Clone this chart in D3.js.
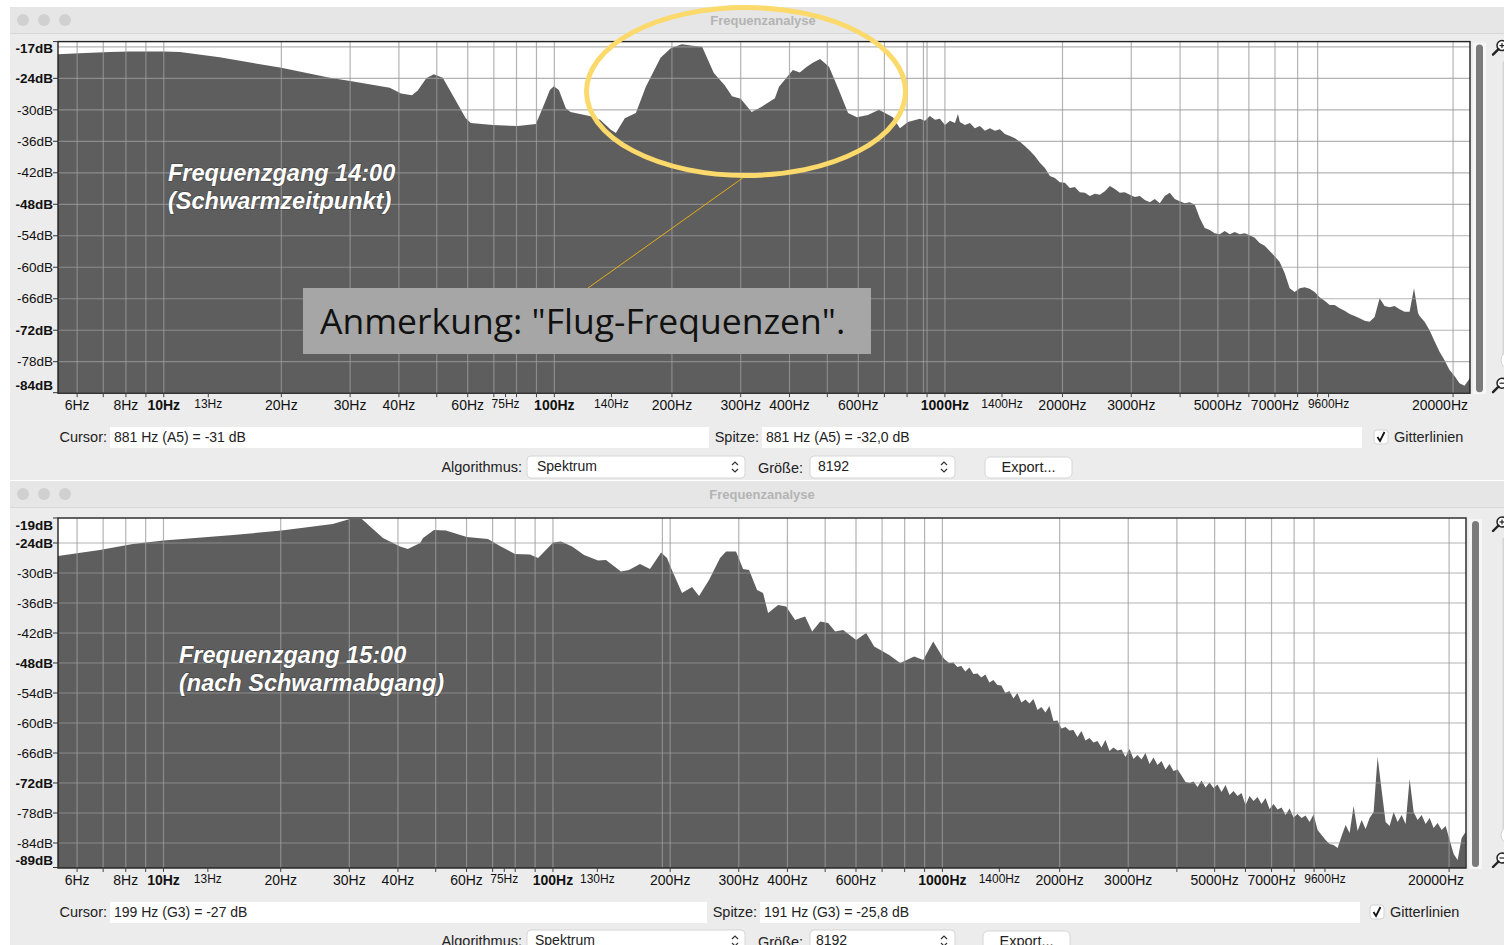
<!DOCTYPE html>
<html><head><meta charset="utf-8">
<script src="https://cdn.jsdelivr.net/npm/d3@7"></script>
<style>
html,body{margin:0;padding:0;background:#fff;overflow:hidden;}
svg{display:block;font-family:"Liberation Sans",Arial,Helvetica,sans-serif;}
</style></head><body>
<svg id="c" width="1504" height="945"></svg>
<script>
// ---------- data ----------
// spectrum 14:00 (frequency in Hz, level in dB)
const freq1400 = [5.36,6.09,7.27,8.18,10,11,13.9,20,26.6,30,37.9,40.5,43.2,44.7,47,49.1,51.8,55.3,59.3,61.1,69.6,80.6,89.7,93.5,97.4,99.7,102.7,107,110,123,131,139.5,143.7,151.5,161.7,171.5,187,199,212,226,239,256,273,285,300,320,338,367,376,408,425,443,460,479,505,535,565,595,635,678,736,767,804,
  863,889,915,943,971,1000,1030,1061,1080,1092,1125,1159,1193,1229,1266,1304,1343,1383,1424,1467,1511,1556,1602,1650,1699,1750,1803,1857,1912,1969,2028,2089,2151,2215,2282,2350,2420,2492,2567,2644,2723,2804,2888,2974,3063,3155,3249,3346,3446,3549,3655,3764,3877,3993,4112,4235,4362,4492,4626,4765,4907,5054,5205,5360,5521,5686,5856,6031,6211,6396,6588,6784,6987,7196,7411,7633,7861,8096,8338,8587,8844,9108,9381,9661,9950,10247,10554,10869,11194,11529,11873,12228,12594,12970,13358,13757,14168,14592,15028,15477,15888,16268,16416,16907,17412,17933,18469,19021,19590,20175,20778,21399,22100];
const db1400   = [-19.4,-19.2,-19.0,-18.9,-18.9,-19.0,-20.0,-22.0,-23.9,-24.5,-25.8,-26.9,-27.2,-26.3,-24.0,-23.2,-23.9,-27.6,-31.6,-32.5,-32.9,-33.1,-32.7,-29.5,-26.2,-25.5,-26.2,-29.7,-30.4,-31.2,-31.9,-33.8,-34.4,-31.6,-30.6,-25.6,-20.1,-18.2,-17.5,-17.8,-18.0,-23.0,-25.3,-27.4,-27.9,-30.4,-29.5,-27.8,-25.6,-22.4,-22.9,-21.8,-21.0,-20.3,-21.8,-26.2,-30.6,-31.4,-31.0,-30.0,-31.4,-33.5,-32.3,
  -31.7,-32.1,-31.2,-31.9,-31.7,-32.9,-32.1,-32.5,-30.8,-32.3,-32.9,-32.5,-33.5,-33.1,-34.0,-33.5,-34.0,-33.7,-34.6,-35.0,-35.4,-36.1,-36.9,-37.8,-38.8,-40.1,-41.1,-42.6,-43.0,-43.8,-43.9,-44.9,-44.7,-45.7,-45.8,-46.4,-46.0,-46.2,-45.5,-44.5,-45.1,-45.8,-45.7,-46.2,-46.6,-46.4,-47.2,-47.6,-47.0,-47.8,-46.4,-45.8,-47.0,-47.4,-47.8,-47.6,-48.1,-50.6,-52.5,-52.9,-53.5,-53.7,-53.1,-53.7,-53.3,-53.7,-53.5,-53.9,-54.4,-55.4,-55.9,-56.9,-57.9,-59.0,-61.1,-64.0,-64.7,-64.0,-63.8,-64.1,-64.7,-65.7,-66.4,-67.2,-67.2,-67.8,-68.3,-68.9,-69.3,-69.7,-70.2,-70.4,-69.5,-65.9,-67.4,-67.6,-67.4,-68.0,-68.5,-68.5,-64.0,-68.7,-69.3,-70.4,-72.0,-74.1,-76.1,-77.7,-79.6,-80.7,-82.1,-82.6,-81.1];

// spectrum 15:00
const freq1500 = [5.36,6.86,8.34,10,15.1,20.1,27.2,30.1,32.3,36.6,40.5,42.4,45.6,46.4,49.5,53.1,60.1,68.1,73.5,79.9,87.3,91.6,100.1,104.9,112,120.2,130.5,136.8,149.5,156.7,167.3,177.5,189.5,196.3,201,214.5,227.6,237.2,251.6,268.6,278.3,295.2,307.7,318.8,334.3,346.4,356.8,378.6,396.9,418.6,444.1,463,485.5,508.9,530.4,556.1,600.5,637.1,668,730,778.9,846.5,892.7,947.1,998.9,
  1017,1042,1067,1092,1118,1145,1173,1201,1230,1259,1289,1320,1352,1384,1417,1451,1486,1522,1558,1595,1634,1673,1713,1754,1796,1839,1883,1928,1974,2021,2070,2119,2170,2222,2275,2330,2386,2443,2501,2561,2622,2685,2750,2815,2883,2952,3022,3095,3169,3245,3322,3402,3483,3567,3652,3739,3829,3921,4015,4111,4209,4310,4413,4519,4627,4738,4851,4967,5086,5208,5333,5460,5591,5725,5862,6002,6146,6293,6444,6598,6756,6918,7084,7253,7427,7605,7787,7973,8164,8360,8560,8765,8975,9190,9410,9635,9866,10102,10344,10592,10845,11105,11371,11643,11922,12207,12500,12799,13105,13419,13740,14069,14406,14751,15104,15466,15836,16215,16603,17001,17408,17825,18251,18688,19136,19594,20063,20543,21035,21538,22054];
const db1500   = [-26.6,-25.4,-24.2,-23.5,-22.4,-21.5,-20.2,-19.2,-19.2,-23.0,-24.7,-25.2,-24.0,-23.0,-21.4,-21.5,-22.8,-23.2,-24.7,-26.2,-26.3,-27.0,-23.9,-23.7,-24.7,-26.4,-27.5,-27.4,-29.7,-29.4,-28.2,-29.2,-25.9,-27.0,-29.0,-34.0,-32.8,-34.6,-31.4,-27.0,-25.7,-25.7,-29.2,-29.4,-33.4,-34.0,-38.0,-36.4,-36.7,-39.4,-38.7,-41.7,-39.7,-40.0,-41.7,-41.4,-43.4,-42.0,-44.7,-46.4,-48.0,-46.7,-47.4,-43.7,-46.7,
  -47.4,-48.0,-47.9,-48.8,-48.6,-49.7,-48.9,-50.2,-50.1,-50.9,-50.3,-51.9,-51.4,-52.4,-52.5,-54.0,-53.6,-55.1,-54.0,-55.9,-55.3,-56.1,-55.2,-57.4,-56.8,-57.9,-56.6,-59.6,-59.5,-61.1,-60.8,-61.5,-61.4,-62.8,-61.6,-63.5,-63.0,-63.9,-63.6,-64.9,-63.4,-65.6,-64.9,-65.5,-65.3,-66.8,-65.2,-67.2,-66.4,-67.3,-66.0,-68.2,-66.9,-68.4,-67.6,-69.3,-68.2,-69.6,-69.3,-70.5,-71.8,-72.0,-71.7,-72.8,-71.5,-72.9,-71.9,-73.0,-72.3,-73.8,-72.4,-74.4,-73.6,-74.6,-74.0,-76.4,-74.6,-75.6,-74.8,-76.2,-75.0,-77.2,-76.2,-77.3,-76.9,-78.4,-77.1,-78.9,-78.2,-79.0,-78.5,-79.8,-78.3,-81.4,-82.4,-83.4,-84.2,-84.4,-85.0,-82.6,-80.4,-82.0,-76.6,-81.6,-79.4,-81.2,-79.0,-77.8,-66.8,-73.4,-79.8,-80.6,-77.8,-79.8,-78.4,-80.2,-71.2,-77.8,-79.4,-78.4,-80.2,-79.0,-81.0,-80.0,-81.4,-80.6,-83.4,-86.2,-87.4,-83.0,-81.8];

// axis labels
const gridFreqs = [6,7,8,9,10,20,30,40,50,60,70,80,90,100,200,300,400,500,600,700,800,900,1000,2000,3000,4000,5000,6000,7000,8000,9000,20000];
const freqLabels1400 = [6,8,10,13,20,30,40,60,75,100,140,200,300,400,600,1000,1400,2000,3000,5000,7000,9600,20000];
const freqLabels1500 = [6,8,10,13,20,30,40,60,75,100,130,200,300,400,600,1000,1400,2000,3000,5000,7000,9600,20000];
const minorFreqLabels = [13,75,130,140,1400,9600];
const boldFreqLabels = [10,100,1000];
const dbLabels1400 = [-17,-24,-30,-36,-42,-48,-54,-60,-66,-72,-78,-84];
const dbBold1400 = [-17,-24,-48,-72,-84];
const dbLabels1500 = [-19,-24,-30,-36,-42,-48,-54,-60,-66,-72,-78,-84,-89];
const dbBold1500 = [-19,-24,-48,-72,-89];

// ---------- drawing ----------
const svg = d3.select("#c");
svg.append("rect").attr("width",1504).attr("height",945).attr("fill","#fff");
const UI = 14.5;

function chevrons(g, cx, cy){
  g.append("path").attr("d",`M${cx-3},${cy-2} L${cx},${cy-5} L${cx+3},${cy-2} M${cx-3},${cy+2} L${cx},${cy+5} L${cx+3},${cy+2}`)
    .attr("fill","none").attr("stroke","#333").attr("stroke-width",1.2);
}
function magnifier(g, cx, cy, plus){
  g.append("circle").attr("cx",cx).attr("cy",cy).attr("r",5).attr("fill","#fff").attr("stroke","#222").attr("stroke-width",1.5);
  g.append("line").attr("x1",cx-3.5).attr("y1",cy+3.5).attr("x2",cx-9).attr("y2",cy+9).attr("stroke","#222").attr("stroke-width",2.4).attr("stroke-linecap","round");
  g.append("line").attr("x1",cx-2.5).attr("y1",cy).attr("x2",cx+2.5).attr("y2",cy).attr("stroke","#222").attr("stroke-width",1.2);
  if(plus) g.append("line").attr("x1",cx).attr("y1",cy-2.5).attr("x2",cx).attr("y2",cy+2.5).attr("stroke","#222").attr("stroke-width",1.2);
}

function drawWindow(cfg){
  const g = svg.append("g");
  const L = cfg.layout;
  // window body and title bar
  g.append("rect").attr("x",10).attr("y",L.winTop).attr("width",1494).attr("height",L.winBottom-L.winTop).attr("fill","#ececec");
  g.append("rect").attr("x",10).attr("y",L.winTop).attr("width",1494).attr("height",26).attr("fill","#e6e6e6");
  g.append("line").attr("x1",10).attr("x2",1504).attr("y1",L.winTop+26.5).attr("y2",L.winTop+26.5).attr("stroke","#d8d8d8");
  [23,44,65].forEach(cx=>g.append("circle").attr("cx",cx).attr("cy",L.winTop+13).attr("r",6).attr("fill","#d0d0d0"));
  g.append("text").attr("x",L.titleX).attr("y",L.winTop+17.5).attr("text-anchor","middle")
    .attr("font-size",13).attr("font-weight","bold").attr("fill","#b4b4b4").text("Frequenzanalyse");

  const x = d3.scaleLog().domain([5.36,22100]).range([L.x0,L.x1]);
  const y = d3.scaleLinear().domain(cfg.dbDomain).range([L.y0,L.y1]);
  const pts = cfg.freq.map((f,i)=>({f, db: cfg.db[i]}));

  const clipId = "clip"+cfg.id;
  g.append("clipPath").attr("id",clipId).append("rect").attr("x",L.x0).attr("y",L.y0).attr("width",L.x1-L.x0).attr("height",L.y1-L.y0);
  g.append("rect").attr("x",L.x0).attr("y",L.y0).attr("width",L.x1-L.x0).attr("height",L.y1-L.y0).attr("fill","#fff");
  const plot = g.append("g").attr("clip-path",`url(#${clipId})`);
  plot.append("path").datum(pts)
    .attr("d", d3.area().x(d=>x(d.f)).y0(L.y1).y1(d=>y(d.db)))
    .attr("fill","#5e5e5e");

  // grid
  const hLines = d3.range(-6, -96, -6).filter(v=>v<=cfg.dbDomain[0] && v>=cfg.dbDomain[1]);
  plot.selectAll(".h").data(hLines).join("line")
    .attr("x1",L.x0).attr("x2",L.x1).attr("y1",d=>y(d)).attr("y2",d=>y(d))
    .attr("stroke","#9b9b9b").attr("stroke-opacity",0.75).attr("stroke-width",1.2);
  plot.selectAll(".v").data(gridFreqs.concat([cfg.cursorFreq])).join("line")
    .attr("x1",d=>x(d)).attr("x2",d=>x(d)).attr("y1",L.y0).attr("y2",L.y1)
    .attr("stroke","#9b9b9b").attr("stroke-opacity",0.75).attr("stroke-width",1.2);
  g.append("rect").attr("x",L.x0).attr("y",L.y0).attr("width",L.x1-L.x0).attr("height",L.y1-L.y0)
    .attr("fill","none").attr("stroke","#222").attr("stroke-width",1.4);

  // y axis
  const yl = g.append("g");
  cfg.dbLabels.forEach(v=>{
    let ty = y(v);
    let ly = Math.min(Math.max(ty, L.y0+7), L.y1-8);
    yl.append("line").attr("x1",L.x0-5).attr("x2",L.x0).attr("y1",Math.min(ty,L.y1-0.5)).attr("y2",Math.min(ty,L.y1-0.5)).attr("stroke","#333");
    yl.append("text").attr("x",L.x0-5).attr("y",ly+4.7).attr("text-anchor","end")
      .attr("font-size",13.5).attr("font-weight",cfg.dbBold.includes(v)?"bold":"normal").attr("fill","#111")
      .text(v+"dB");
  });

  // x axis
  const xl = g.append("g");
  const tickF = Array.from(new Set(gridFreqs.concat(cfg.freqLabels)));
  tickF.forEach(f=>{
    xl.append("line").attr("x1",x(f)).attr("x2",x(f)).attr("y1",L.y1).attr("y2",L.y1+4).attr("stroke","#444");
  });
  cfg.freqLabels.forEach(f=>{
    const minor = minorFreqLabels.includes(f);
    const bold = boldFreqLabels.includes(f);
    let tx = x(f);
    if (f===20000) tx = L.x1 - 30;
    xl.append("text").attr("x",tx).attr("y",L.y1 + (minor?15:17))
      .attr("text-anchor","middle")
      .attr("font-size",minor?12:14).attr("font-weight",bold?"bold":"normal").attr("fill","#111")
      .text(f+"Hz");
  });

  // scrollbar and zoom controls
  g.append("rect").attr("x",L.x1+3).attr("y",L.y0+1).attr("width",13).attr("height",L.y1-L.y0).attr("fill","#f6f6f6");
  g.append("rect").attr("x",L.x1+6).attr("y",L.y0+3).attr("width",7).attr("height",L.y1-L.y0-4).attr("rx",3.5).attr("fill","#7b7b7b");
  g.append("line").attr("x1",1503.5).attr("x2",1503.5).attr("y1",L.y0+20).attr("y2",L.y1-30).attr("stroke","#d4d4d4").attr("stroke-width",2);
  g.append("circle").attr("cx",1510).attr("cy",L.y1-33).attr("r",9).attr("fill","#fff").attr("stroke","#d0d0d0");
  magnifier(g, 1502, L.y0+4, true);
  magnifier(g, 1502, L.y1-10, false);

  // cursor / peak row
  const r1 = L.row1;
  g.append("text").attr("x",107).attr("y",r1+5).attr("text-anchor","end").attr("font-size",UI).attr("fill","#222").text("Cursor:");
  g.append("rect").attr("x",110).attr("y",r1-10).attr("width",L.field1End-110).attr("height",21).attr("fill","#fff");
  g.append("text").attr("x",114).attr("y",r1+5).attr("font-size",UI-0.5).attr("fill","#222").text(cfg.cursorText);
  g.append("text").attr("x",L.spitzeX-3).attr("y",r1+5).attr("text-anchor","end").attr("font-size",UI).attr("fill","#222").text("Spitze:");
  g.append("rect").attr("x",L.spitzeX).attr("y",r1-10).attr("width",L.field2End-L.spitzeX).attr("height",21).attr("fill","#fff");
  g.append("text").attr("x",L.spitzeX+4).attr("y",r1+5).attr("font-size",UI-0.5).attr("fill","#222").text(cfg.peakText);
  g.append("rect").attr("x",L.checkX).attr("y",r1-7).attr("width",14).attr("height",14).attr("rx",3).attr("fill","#fff").attr("stroke","#d2d2d2");
  g.append("path").attr("d",`M${L.checkX+3.5},${r1} L${L.checkX+6},${r1+4} L${L.checkX+10.5},${r1-5}`).attr("fill","none").attr("stroke","#111").attr("stroke-width",1.8);
  g.append("text").attr("x",L.checkX+20).attr("y",r1+5).attr("font-size",UI).attr("fill","#222").text("Gitterlinien");

  // algorithm / size / export row
  const r2 = L.row2;
  g.append("text").attr("x",522).attr("y",r2+5).attr("text-anchor","end").attr("font-size",UI).attr("fill","#222").text("Algorithmus:");
  g.append("rect").attr("x",527).attr("y",r2-11).attr("width",218).attr("height",22).attr("rx",4).attr("fill","#fff").attr("stroke","#d6d6d6");
  g.append("text").attr("x",L.comboText1).attr("y",r2+4).attr("font-size",UI-0.5).attr("fill","#222").text("Spektrum");
  chevrons(g, 735, r2);
  g.append("text").attr("x",803).attr("y",r2+6).attr("text-anchor","end").attr("font-size",UI).attr("fill","#222").text("Größe:");
  g.append("rect").attr("x",810).attr("y",r2-11).attr("width",145).attr("height",22).attr("rx",4).attr("fill","#fff").attr("stroke","#d6d6d6");
  g.append("text").attr("x",L.comboText2).attr("y",r2+4).attr("font-size",UI-0.5).attr("fill","#222").text("8192");
  chevrons(g, 944, r2);
  g.append("rect").attr("x",L.exportX).attr("y",r2-10).attr("width",87).attr("height",21).attr("rx",5).attr("fill","#fff").attr("stroke","#d6d6d6");
  g.append("text").attr("x",L.exportX+43.5).attr("y",r2+5).attr("text-anchor","middle").attr("font-size",UI).attr("fill","#222").text("Export...");

  // chart caption
  const cap = g.append("text").attr("font-size",23.5).attr("font-weight","bold").attr("font-style","italic")
    .attr("fill","#fff").attr("stroke","rgba(0,0,0,0.25)").attr("stroke-width",1.5).attr("paint-order","stroke");
  cap.append("tspan").attr("x",L.capX).attr("y",L.capY).text(cfg.caption[0]);
  cap.append("tspan").attr("x",L.capX).attr("y",L.capY+28).text(cfg.caption[1]);
  return {x,y,g};
}

drawWindow({
  id:"a", freq:freq1400, db:db1400, dbDomain:[-17,-84], cursorFreq:881,
  freqLabels:freqLabels1400, dbLabels:dbLabels1400, dbBold:dbBold1400,
  cursorText:"881 Hz (A5) = -31 dB", peakText:"881 Hz (A5) = -32,0 dB",
  caption:["Frequenzgang 14:00","(Schwarmzeitpunkt)"],
  layout:{winTop:7, winBottom:480, titleX:763, x0:58, x1:1470, y0:41.6, y1:393.2,
    row1:437, row2:467, field1End:709, spitzeX:762, field2End:1362, checkX:1374,
    comboText1:537, comboText2:818, exportX:985, capX:168, capY:181}
});
drawWindow({
  id:"b", freq:freq1500, db:db1500, dbDomain:[-19,-89], cursorFreq:191,
  freqLabels:freqLabels1500, dbLabels:dbLabels1500, dbBold:dbBold1500,
  cursorText:"199 Hz (G3) = -27 dB", peakText:"191 Hz (G3) = -25,8 dB",
  caption:["Frequenzgang 15:00","(nach Schwarmabgang)"],
  layout:{winTop:481, winBottom:945, titleX:762, x0:58, x1:1466, y0:518, y1:868,
    row1:912, row2:941, field1End:707, spitzeX:760, field2End:1360, checkX:1370,
    comboText1:535, comboText2:816, exportX:983, capX:179, capY:663}
});

// highlighted region and note
const note = svg.append("g");
note.append("line").attr("x1",744).attr("y1",177).attr("x2",588).attr("y2",288).attr("stroke","#e2ad1a").attr("stroke-width",1);
note.append("ellipse").attr("cx",746).attr("cy",91.5).attr("rx",159.5).attr("ry",84).attr("fill","none").attr("stroke","#fbd96a").attr("stroke-width",5);
note.append("rect").attr("x",303).attr("y",288).attr("width",568).attr("height",66).attr("fill","#a6a6a6");
note.append("text").attr("x",320).attr("y",334).attr("font-family","'Open Sans',sans-serif").attr("font-size",35.5).attr("fill","#111")
  .text('Anmerkung: "Flug-Frequenzen".');
</script>
</body></html>
